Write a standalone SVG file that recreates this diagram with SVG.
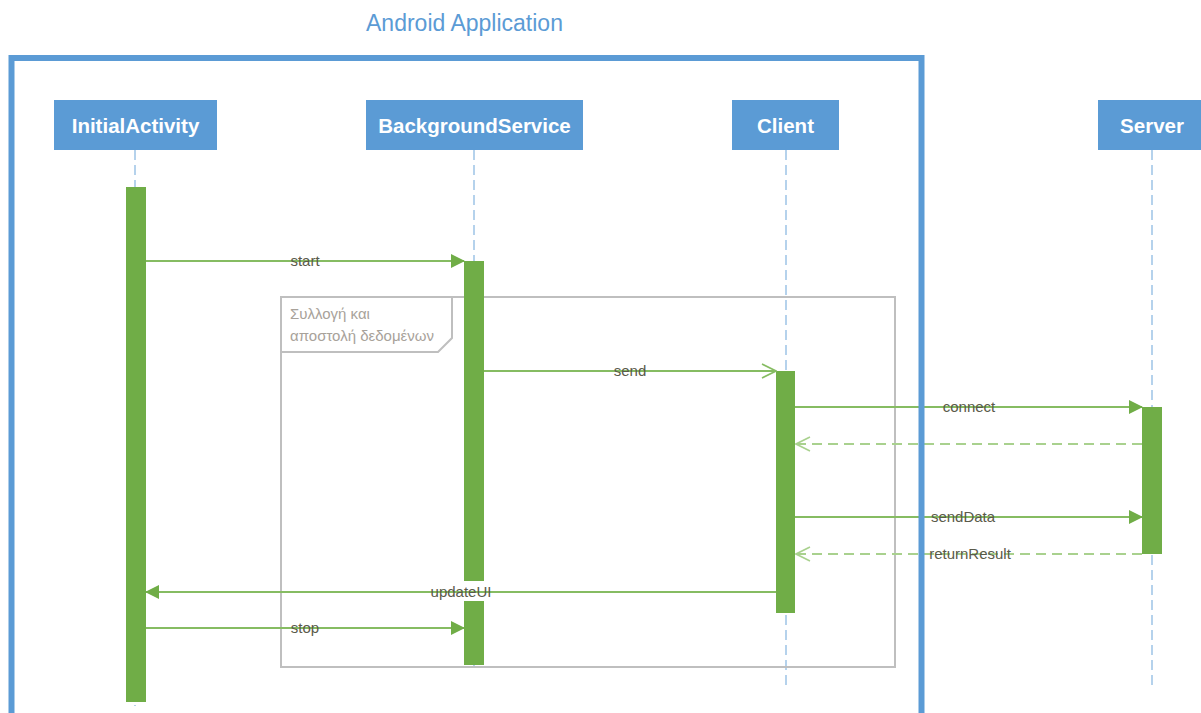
<svg xmlns="http://www.w3.org/2000/svg" width="1201" height="713" viewBox="0 0 1201 713">
  <defs>
    <style>
      .title { font-family: "Liberation Sans", "Open Sans", sans-serif; font-size: 23px; fill: #5B9BD5; }
      .head { fill: #5B9BD5; }
      .headtxt { font-family: "Liberation Sans", "Open Sans", sans-serif; font-size: 20.5px; font-weight: bold; fill: #FFFFFF; text-anchor: middle; }
      .life { stroke: #9DC3E6; stroke-width: 1.5; stroke-dasharray: 10 5; fill: none; }
      .bar { fill: #70AD47; }
      .msg { stroke: #86BC62; stroke-width: 2; fill: none; }
      .ret { stroke: #A9D18E; stroke-width: 2; stroke-dasharray: 10 6; fill: none; }
      .lbl { font-family: "Liberation Sans", "Open Sans", sans-serif; font-size: 15px; fill: #5A5A4A; text-anchor: middle; }
      .lblbg { fill: #FFFFFF; }
      .frag { stroke: #BFBFBF; stroke-width: 2; fill: none; }
      .fragtxt { font-family: "Liberation Sans", "Open Sans", sans-serif; font-size: 15px; fill: #A8A29A; }
    </style>
    <marker id="filled" viewBox="0 0 14 14" refX="13" refY="7" markerWidth="14" markerHeight="14" markerUnits="userSpaceOnUse" orient="auto">
      <path d="M0,0 L14,7 L0,14 Z" fill="#70AD47"/>
    </marker>
    <marker id="open" viewBox="0 0 16 16" refX="15" refY="8" markerWidth="16" markerHeight="16" markerUnits="userSpaceOnUse" orient="auto">
      <path d="M1,1 L15,8 L1,15" fill="none" stroke="#A9D18E" stroke-width="1.6"/>
    </marker>
    <marker id="open-solid" viewBox="0 0 16 16" refX="15" refY="8" markerWidth="16" markerHeight="16" markerUnits="userSpaceOnUse" orient="auto">
      <path d="M1,1 L15,8 L1,15" fill="none" stroke="#86BC62" stroke-width="1.6"/>
    </marker>
  </defs>

  <rect width="1201" height="713" fill="#FFFFFF"/>

  <!-- lifelines -->
  <g id="lifelines">
    <line class="life" x1="135" y1="150" x2="135" y2="706"/>
    <line class="life" x1="474" y1="150" x2="474" y2="668"/>
    <line class="life" x1="786" y1="150" x2="786" y2="688"/>
    <line class="life" x1="1152" y1="150" x2="1152" y2="688"/>
  </g>

  <!-- combined fragment -->
  <g id="fragment">
    <rect class="frag" x="281" y="297" width="614" height="370"/>
    <path class="frag" d="M281,352 L438,352 L452,338 L452,297"/>
    <text class="fragtxt" x="290" y="319">Συλλογή και</text>
    <text class="fragtxt" x="290" y="341">αποστολή δεδομένων</text>
  </g>

  <g id="InitialActivity">
    <rect class="head" x="54" y="100" width="163" height="50"/>
    <text class="headtxt" x="135.5" y="132.5">InitialActivity</text>
    <rect class="bar" x="126" y="187" width="20" height="515"/>
  </g>

  <g id="BackgroundService">
    <rect class="head" x="366" y="100" width="217" height="50"/>
    <text class="headtxt" x="474.5" y="132.5">BackgroundService</text>
    <rect class="bar" x="464" y="261" width="20" height="404"/>
  </g>

  <g id="Client">
    <rect class="head" x="732" y="100" width="107" height="50"/>
    <text class="headtxt" x="785.5" y="132.5">Client</text>
    <rect class="bar" x="776" y="371" width="19" height="242"/>
  </g>

  <g id="Server">
    <rect class="head" x="1098" y="100" width="110" height="50"/>
    <text class="headtxt" x="1152" y="132.5">Server</text>
    <rect class="bar" x="1142" y="407" width="20" height="147"/>
  </g>

  <!-- messages -->
  <g id="connectors">
    <line class="msg" x1="146" y1="261" x2="464" y2="261" marker-end="url(#filled)"/>
    <text class="lbl" x="305" y="266">start</text>

    <line class="msg" x1="484" y1="371" x2="776" y2="371" marker-end="url(#open-solid)"/>
    <text class="lbl" x="630" y="376">send</text>

    <line class="msg" x1="795" y1="407" x2="1142" y2="407" marker-end="url(#filled)"/>
    <text class="lbl" x="969" y="412">connect</text>

    <line class="ret" x1="1142" y1="444" x2="796" y2="444" marker-end="url(#open)"/>

    <line class="msg" x1="795" y1="517" x2="1142" y2="517" marker-end="url(#filled)"/>
    <text class="lbl" x="963" y="522">sendData</text>

    <line class="ret" x1="1142" y1="554" x2="796" y2="554" marker-end="url(#open)"/>
    <text class="lbl" x="970" y="559">returnResult</text>

    <rect class="lblbg" x="428" y="581" width="66" height="20"/>
    <line class="msg" x1="776" y1="592" x2="146" y2="592" marker-end="url(#filled)"/>
    <text class="lbl" x="461" y="597">updateUI</text>

    <line class="msg" x1="146" y1="628" x2="464" y2="628" marker-end="url(#filled)"/>
    <text class="lbl" x="305" y="633">stop</text>
  </g>

  <!-- system boundary, drawn over the message lines -->
  <g id="android-application">
    <rect x="11.5" y="58" width="910" height="680" fill="none" stroke="#5B9BD5" stroke-width="6"/>
    <text class="title" x="464.5" y="31" text-anchor="middle">Android Application</text>
  </g>
</svg>
